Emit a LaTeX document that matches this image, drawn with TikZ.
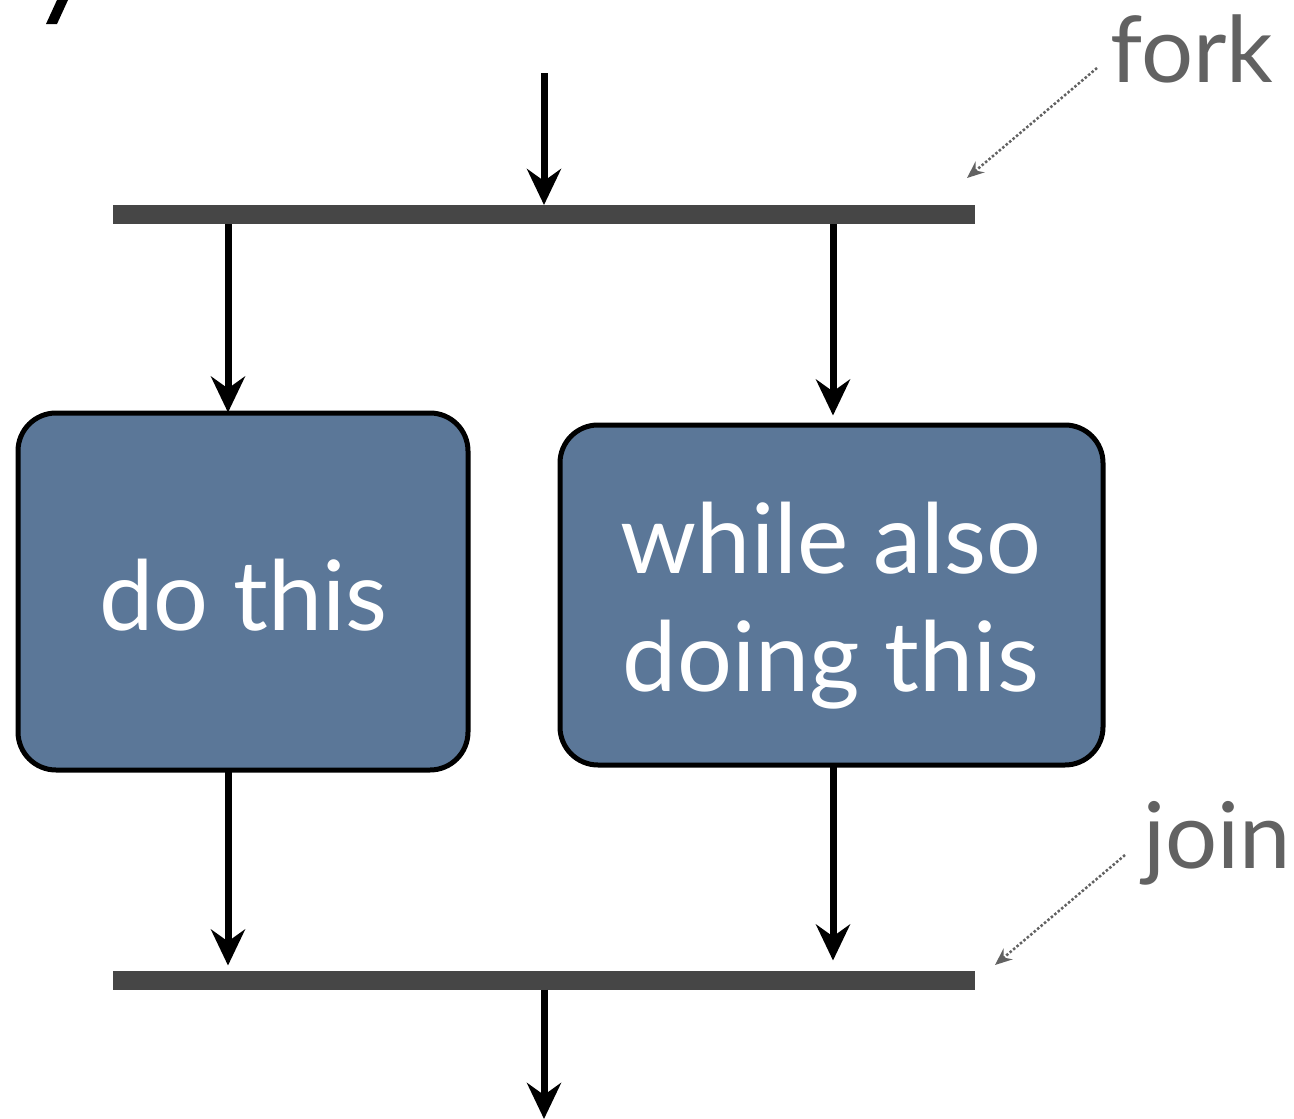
\documentclass[tikz,border=0pt]{standalone}
\usepackage{fontspec}
\setmainfont{Lato}
\usetikzlibrary{arrows.meta}
\definecolor{barcol}{HTML}{464646}
\definecolor{boxcol}{HTML}{5B7798}
\definecolor{notecol}{HTML}{626262}
\begin{document}
\begin{tikzpicture}[x=1pt,y=-1pt,
  bar/.style={fill=barcol, minimum width=862pt, minimum height=19pt, inner sep=0pt, outer sep=0pt},
  task/.style={draw=black, line width=5pt, fill=boxcol, rounded corners=38pt, inner sep=0pt},
  tasktext/.style={text=white, font=\fontsize{97}{118}\selectfont, align=center, inner sep=0pt, anchor=base},
  flow/.style={line width=7pt, -{Stealth[length=36pt,width=34pt,inset=12pt]}},
  note/.style={text=notecol, font=\fontsize{92}{110}\selectfont, inner sep=0pt, anchor=base west},
  pointer/.style={notecol, line width=2.5pt, dotted, -{Stealth[length=17pt,width=14pt]}}
]
\useasboundingbox (0,0) rectangle (1294,1119);

% clipped stroke at the top-left corner
\fill (57,0) -- (68,0) -- (57,24) -- (46,24) -- cycle;

% fork and join bars
\node[bar] (fork) at (544,214.5) {};
\node[bar] (join) at (544,980) {};

% the two parallel tasks
\node[task, minimum width=450pt, minimum height=357pt] (lbox) at (243,591.5) {};
\node[task, minimum width=543pt, minimum height=340pt] (rbox) at (831.5,595) {};

\node[tasktext] (ltext) at (243.5,630) {do this};
\node[tasktext] (rtext) at (831,691) {while also\\doing this};

% lane positions and free ends
\coordinate (colL) at (228,0);
\coordinate (colR) at (833,0);
\coordinate (start) at (544,73);
\coordinate (finish) at (544,1119);

% flow arrows
\draw[flow] (start) -- (fork.north);
\draw[flow] (fork.south -| colL) -- ([yshift=-2pt]lbox.north -| colL);
\draw[flow] (fork.south -| colR) -- ([yshift=7pt]rbox.north -| colR);
\draw[flow] ([yshift=2pt]lbox.south -| colL) -- ([yshift=5pt]join.north -| colL);
\draw[flow] ([yshift=2pt]rbox.south -| colR) -- ([yshift=10pt]join.north -| colR);
\draw[flow] (join.south) -- (finish);

% annotations
\node[note] (forklabel) at (1110,82) {fork};
\node[note] (joinlabel) at (1143,868) {join};
\coordinate (forkend) at (967,178);
\coordinate (joinend) at (995,965);
\draw[pointer] ([xshift=-13pt,yshift=14pt]forklabel.base west) -- (forkend);
\draw[pointer] ([xshift=-18pt,yshift=13pt]joinlabel.base west) -- (joinend);
\end{tikzpicture}
\end{document}
